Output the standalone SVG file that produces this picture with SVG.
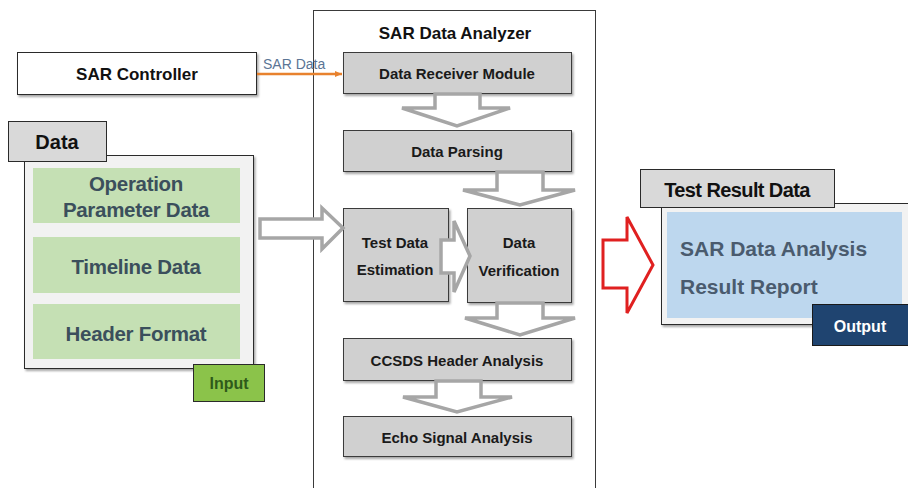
<svg xmlns="http://www.w3.org/2000/svg" width="908" height="488" viewBox="0 0 908 488">
<defs>
<filter id="sh" x="-10%" y="-10%" width="130%" height="140%">
<feDropShadow dx="1.5" dy="2" stdDeviation="1.2" flood-color="#000" flood-opacity="0.35"/>
</filter>
<marker id="oa" markerWidth="8" markerHeight="8" refX="7" refY="4" orient="auto" markerUnits="userSpaceOnUse">
<path d="M0,1 L7,4 L0,7 Z" fill="#e8822e"/>
</marker>
<style>
text{font-family:"Liberation Sans",Arial,sans-serif;font-weight:bold}
.proc{fill:#d0d0d0;stroke:#3a3a3a;stroke-width:1;filter:url(#sh)}
.pt{font-size:15px;fill:#1a1a1a;text-anchor:middle}
.harr{fill:#ffffff;stroke:#a6a6a6;stroke-width:3.5;stroke-linejoin:miter}
.green{fill:#c5e0b4}
.gt{font-size:20.5px;fill:#3b4f5c;text-anchor:middle;letter-spacing:-0.3px}
</style>
</defs>
<rect width="908" height="488" fill="#ffffff"/>

<g id="analyzer">
<rect x="313.5" y="10.5" width="282" height="480" fill="#ffffff" stroke="#3a3a3a" stroke-width="1"/>
<text x="455" y="39" font-size="17" fill="#111" text-anchor="middle">SAR Data Analyzer</text>
</g>

<g id="sar-controller">
<rect x="17.5" y="52.5" width="239" height="42" fill="#ffffff" stroke="#2a2a2a" stroke-width="1" filter="url(#sh)"/>
<text x="137" y="80" font-size="17" fill="#111" text-anchor="middle">SAR Controller</text>
</g>

<g id="data-group">
<rect x="24.5" y="155.5" width="229" height="213" fill="#f2f2f2" stroke="#2a2a2a" stroke-width="1" filter="url(#sh)"/>
<rect x="8.5" y="121.5" width="98" height="40" fill="#d9d9d9" stroke="#2a2a2a" stroke-width="1"/>
<text x="57" y="149" font-size="20" fill="#111" text-anchor="middle">Data</text>
</g>
<g id="operation-parameter-data">
<rect class="green" x="33" y="168" width="207" height="55"/>
<text class="gt" x="136" y="191">Operation</text>
<text class="gt" x="136" y="217">Parameter Data</text>
</g>
<g id="timeline-data">
<rect class="green" x="33" y="237" width="207" height="56"/>
<text class="gt" x="136" y="274">Timeline Data</text>
</g>
<g id="header-format">
<rect class="green" x="33" y="304" width="207" height="55"/>
<text class="gt" x="136" y="341">Header Format</text>
</g>
<g id="input">
<rect x="193.5" y="364.5" width="71" height="37" fill="#8bc34a" stroke="#2a2a2a" stroke-width="1"/>
<text x="229" y="389" font-size="16" fill="#2f5a1a" text-anchor="middle">Input</text>
</g>

<g id="data-receiver-module">
<rect class="proc" x="343.5" y="52.5" width="228" height="41"/>
<text class="pt" x="457" y="79">Data Receiver Module</text>
</g>
<g id="data-parsing">
<rect class="proc" x="343.5" y="130.5" width="228" height="41"/>
<text class="pt" x="457" y="157">Data Parsing</text>
</g>
<g id="test-data-estimation">
<rect class="proc" x="343.5" y="208.5" width="105" height="93"/>
<text class="pt" x="395" y="248">Test Data</text>
<text class="pt" x="395" y="275">Estimation</text>
</g>
<g id="data-verification">
<rect class="proc" x="467.5" y="208.5" width="104" height="94"/>
<text class="pt" x="519" y="248">Data</text>
<text class="pt" x="519" y="276">Verification</text>
</g>
<g id="ccsds-header-analysis">
<rect class="proc" x="343.5" y="338.5" width="228" height="42"/>
<text class="pt" x="457" y="366">CCSDS Header Analysis</text>
</g>
<g id="echo-signal-analysis">
<rect class="proc" x="343.5" y="416.5" width="228" height="40"/>
<text class="pt" x="457" y="443">Echo Signal Analysis</text>
</g>

<g id="test-result-data">
<rect x="661.5" y="203.5" width="250" height="121" fill="#f2f2f2" stroke="#2a2a2a" stroke-width="1" filter="url(#sh)"/>
<rect x="667" y="212" width="235" height="106" fill="#bdd7ee"/>
<rect x="640.5" y="169.5" width="194" height="38" fill="#d9d9d9" stroke="#2a2a2a" stroke-width="1"/>
<text x="737" y="197" font-size="20" fill="#111" text-anchor="middle" letter-spacing="-0.6">Test Result Data</text>
<text x="680" y="256" font-size="21" fill="#4a5b6e">SAR Data Analysis</text>
<text x="680" y="294" font-size="21" fill="#4a5b6e">Result Report</text>
</g>
<g id="output">
<rect x="812.5" y="304.5" width="97" height="41" fill="#1f4470" stroke="#1a1a1a" stroke-width="1"/>
<text x="860" y="332" font-size="16" fill="#ffffff" text-anchor="middle">Output</text>
</g>

<g id="connectors">
<line x1="257" y1="74" x2="342" y2="74" stroke="#e8822e" stroke-width="2.5" marker-end="url(#oa)"/>
<text x="263" y="69" font-size="14" fill="#5b7595" style="font-weight:normal">SAR Data</text>
<path class="harr" d="M260,219 L322,219 L322,208 L343,228 L322,249 L322,238 L260,238 Z"/>
<path class="harr" d="M435,94 L480,94 L480,108 L510,108 L457,126 L402,108 L435,108 Z"/>
<path class="harr" d="M497,172 L543,172 L543,190 L575,190 L520,205 L463,190 L497,190 Z"/>
<path class="harr" d="M441,240 L454,240 L454,221 L470,256 L454,292 L454,273 L441,273 Z"/>
<path class="harr" d="M497,303 L543,303 L543,318 L575,318 L520,335 L465,318 L497,318 Z"/>
<path class="harr" d="M436,381 L481,381 L481,397 L512,397 L457,412 L403,397 L436,397 Z"/>
<path d="M603,240 L627,240 L627,217 L653,265 L627,313 L627,288 L603,288 Z" fill="#ffffff" stroke="#e02020" stroke-width="3"/>
</g>
</svg>
